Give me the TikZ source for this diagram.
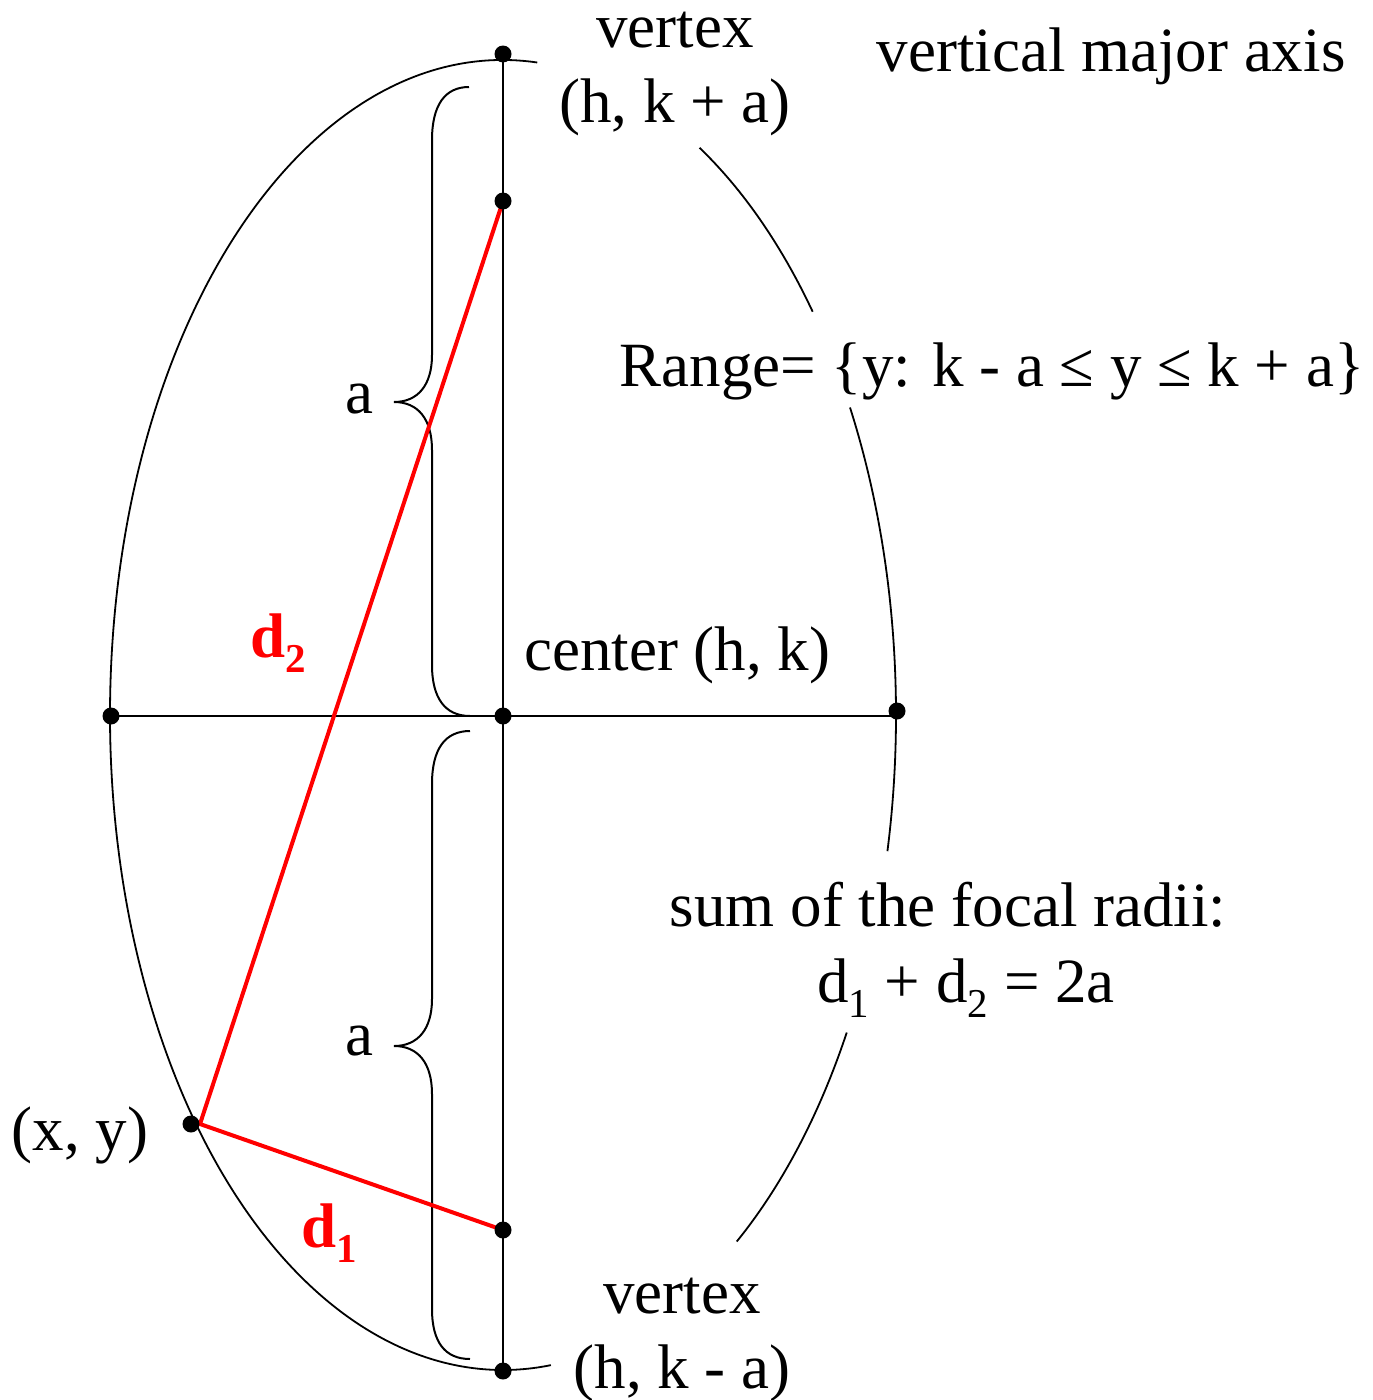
\documentclass[tikz,border=0pt]{standalone}
\usepackage{fontspec}
\setmainfont{Liberation Serif}
\newcommand\mysub[1]{\raisebox{-0.24em}{\fontsize{41}{41}\selectfont #1}}
\begin{document}
\begin{tikzpicture}[x=1pt,y=-1pt,
  axisline/.style={line width=2pt},
  ell/.style={line width=1.8pt},
  redline/.style={red, line width=4pt},
  bracepath/.style={line width=2pt},
  dot/.style={circle, fill=black, inner sep=0pt, minimum size=17pt},
  lbl/.style={inner sep=0pt, anchor=base, font=\fontsize{63}{76}\selectfont},
  redlbl/.style={inner sep=0pt, anchor=base west, text=red, font=\fontsize{63}{76}\selectfont\bfseries}
]
\useasboundingbox (0,0) rectangle (1373,1400);
\coordinate (O) at (503,715);
\coordinate (vt) at (503,54);
\coordinate (f2) at (503,201);
\coordinate (c) at (503,716);
\coordinate (l) at (111,716);
\coordinate (r) at (897,711);
\coordinate (re) at (896,716);
\coordinate (f1) at (503,1230);
\coordinate (vb) at (503,1371);
\coordinate (xy) at (191,1124);
\coordinate (P) at (200,1124);

% ellipse
\draw[ell] (O) ++(-85:393 and 655) arc[start angle=-85, end angle=-277, x radius=393, y radius=655];
\draw[ell] (O) ++(-60:393 and 655) arc[start angle=-60, end angle=-38, x radius=393, y radius=655];
\draw[ell] (O) ++(-28:393 and 655) arc[start angle=-28, end angle=12, x radius=393, y radius=655];
\draw[ell] (O) ++(29:393 and 655) arc[start angle=29, end angle=53.5, x radius=393, y radius=655];

% axes
\draw[axisline] (vt) -- (vb);
\draw[axisline] (l) -- (re);

% braces
\draw[bracepath] (469,87) .. controls (445,87) and (432,105) .. (432,140) -- (432,355)
  .. controls (432,385) and (418,402) .. (394,402)
  .. controls (418,402) and (432,419) .. (432,450) -- (432,665)
  .. controls (432,698) and (445,716) .. (470,716);
\draw[bracepath] (470,731) .. controls (445,731) and (432,749) .. (432,784) -- (432,999)
  .. controls (432,1029) and (418,1046) .. (394,1046)
  .. controls (418,1046) and (432,1063) .. (432,1094) -- (432,1309)
  .. controls (432,1342) and (445,1359) .. (470,1359);

% focal radii
\draw[redline] (f2) -- (P) -- (f1);

% dots
\node[dot] (dvt) at (vt) {};
\node[dot] (df2) at (f2) {};
\node[dot] (dc) at (c) {};
\node[dot] (dl) at (l) {};
\node[dot] (dr) at (r) {};
\node[dot] (df1) at (f1) {};
\node[dot] (dvb) at (vb) {};
\node[dot] (dxy) at (xy) {};

% labels
\node[lbl] (t1) at (675,47) {vertex};
\node[lbl] (t2) at (675,122) {(h, k + a)};
\node[lbl] (t3) at (1111,71) {vertical major axis};
\node[lbl] (t4) at (992,386) {Range= \{y: k - a ≤ y ≤ k + a\}};
\node[lbl, anchor=base west] (t5) at (524,670) {center (h, k)};
\node[lbl] (t6) at (948,926) {sum of the focal radii:};
\node[lbl] (t7) at (966,1002) {d\mysub{1} + d\mysub{2} = 2a};
\node[lbl] (t8) at (682,1313) {vertex};
\node[lbl] (t9) at (682,1388) {(h, k - a)};
\node[lbl] (t10) at (80,1150) {(x, y)};
\node[lbl] (a1) at (359,413) {a};
\node[lbl] (a2) at (359,1055) {a};
\node[redlbl] (d2) at (250,657) {d\mysub{2}};
\node[redlbl] (d1) at (301,1247) {d\mysub{1}};
\end{tikzpicture}
\end{document}
